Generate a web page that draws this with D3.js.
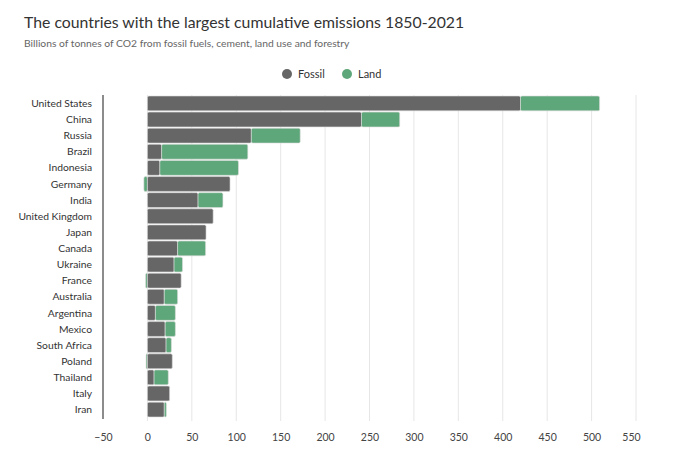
<!DOCTYPE html>
<html>
<head>
<meta charset="utf-8" />
<title>Cumulative emissions 1850-2021</title>
<style>
html, body {
  margin: 0;
  background: #fff;
  font-family: Lato, sans-serif;
}
</style>
</head>
<body>
<script src="https://cdn.jsdelivr.net/npm/d3@7"></script>
<script>

// ---------------------------------------------------------
// Data (billions of tonnes of CO2)

const countries = ['United States', 'China', 'Russia', 'Brazil', 'Indonesia',
  'Germany', 'India', 'United Kingdom', 'Japan', 'Canada', 'Ukraine', 'France',
  'Australia', 'Argentina', 'Mexico', 'South Africa', 'Poland', 'Thailand',
  'Italy', 'Iran']
const fossil = [420, 241, 117, 16, 14, 93, 57, 74, 66, 34, 30, 38, 19, 9, 20, 21, 28, 7.5, 25, 19]
const land   = [89, 43, 55, 97, 88.5, -4, 28, 0, 0, 31.5, 9.5, -2, 15, 22.5, 11.5, 6, -1.5, 16, 0, 2.3]
const xTicks = [-50, 0, 50, 100, 150, 200, 250, 300, 350, 400, 450, 500, 550]

const seriesNames = ['Fossil', 'Land']
const colors = { Fossil: '#666666', Land: '#5ea77a' }

// ---------------------------------------------------------

const w = 680
const h = 453
const margin = { top: 96, right: 44, bottom: 36, left: 103 }
const font = 'Lato, sans-serif'

const svg = d3.select('body').append('svg')
  .attr('width', w)
  .attr('height', h)
  .attr('font-family', font)

svg.append('text')
  .attr('x', 24).attr('y', 28)
  .attr('font-size', 15.8)
  .attr('fill', '#333')
  .text('The countries with the largest cumulative emissions 1850-2021')

svg.append('text')
  .attr('x', 24).attr('y', 47)
  .attr('font-size', 10.3)
  .attr('fill', '#666')
  .text('Billions of tonnes of CO2 from fossil fuels, cement, land use and forestry')

// legend
const legend = svg.append('g')
const legendX = [287, 347]
seriesNames.forEach((name, i) => {
  legend.append('circle')
    .attr('cx', legendX[i]).attr('cy', 74).attr('r', 5)
    .attr('fill', colors[name])
  legend.append('text')
    .attr('x', legendX[i] + 11).attr('y', 78)
    .attr('font-size', 11)
    .attr('fill', '#333')
    .text(name)
})

const x = d3.scaleLinear()
  .domain([-50, 550])
  .range([margin.left, w - margin.right])

const y = d3.scaleBand()
  .domain(countries)
  .range([margin.top, h - margin.bottom])
  .paddingInner(0.08)

// gridlines
svg.append('g')
  .selectAll('line')
  .data(xTicks.slice(1))
  .enter().append('line')
  .attr('x1', d => x(d)).attr('x2', d => x(d))
  .attr('y1', margin.top - 1).attr('y2', h - margin.bottom + 4)
  .attr('stroke', '#e6e6e6')
  .attr('stroke-width', 1)

// x axis labels
const xAxis = svg.append('g')
  .attr('transform', `translate(0, ${h - margin.bottom + 4})`)
  .call(d3.axisBottom(x).tickValues(xTicks).tickSize(0).tickPadding(13))
xAxis.select('.domain').remove()
xAxis.selectAll('text')
  .attr('font-family', font)
  .attr('font-size', 10.5)
  .attr('fill', '#444')
xAxis.selectAll('.tick').filter(d => d === 550).select('text')
  .attr('dx', -5)

// stacked bars: fossil from 0, land after fossil (negative land goes left of 0)
const bars = svg.append('g')
countries.forEach((c, i) => {
  const f = fossil[i]
  const l = land[i]
  const segs = [{ s: 'Fossil', x0: 0, x1: f }]
  if (l > 0) segs.push({ s: 'Land', x0: f, x1: f + l })
  if (l < 0) segs.unshift({ s: 'Land', x0: l, x1: 0 })
  segs.forEach(seg => {
    bars.append('rect')
      .attr('x', x(seg.x0))
      .attr('y', y(c))
      .attr('width', x(seg.x1) - x(seg.x0))
      .attr('height', y.bandwidth())
      .attr('rx', 1.5)
      .attr('fill', colors[seg.s])
      .attr('stroke', '#ddd')
      .attr('stroke-width', 0.6)
  })
})

// left axis line at -50
svg.append('line')
  .attr('x1', x(-50)).attr('x2', x(-50))
  .attr('y1', margin.top - 1).attr('y2', h - margin.bottom + 2)
  .attr('stroke', '#666')
  .attr('stroke-width', 1.5)

// country labels
svg.append('g')
  .selectAll('text')
  .data(countries)
  .enter().append('text')
  .attr('x', 92)
  .attr('y', d => y(d) + y.bandwidth() / 2)
  .attr('dy', '0.35em')
  .attr('text-anchor', 'end')
  .attr('font-size', 10.3)
  .attr('fill', '#333')
  .text(d => d)

</script>
</body>
</html>
